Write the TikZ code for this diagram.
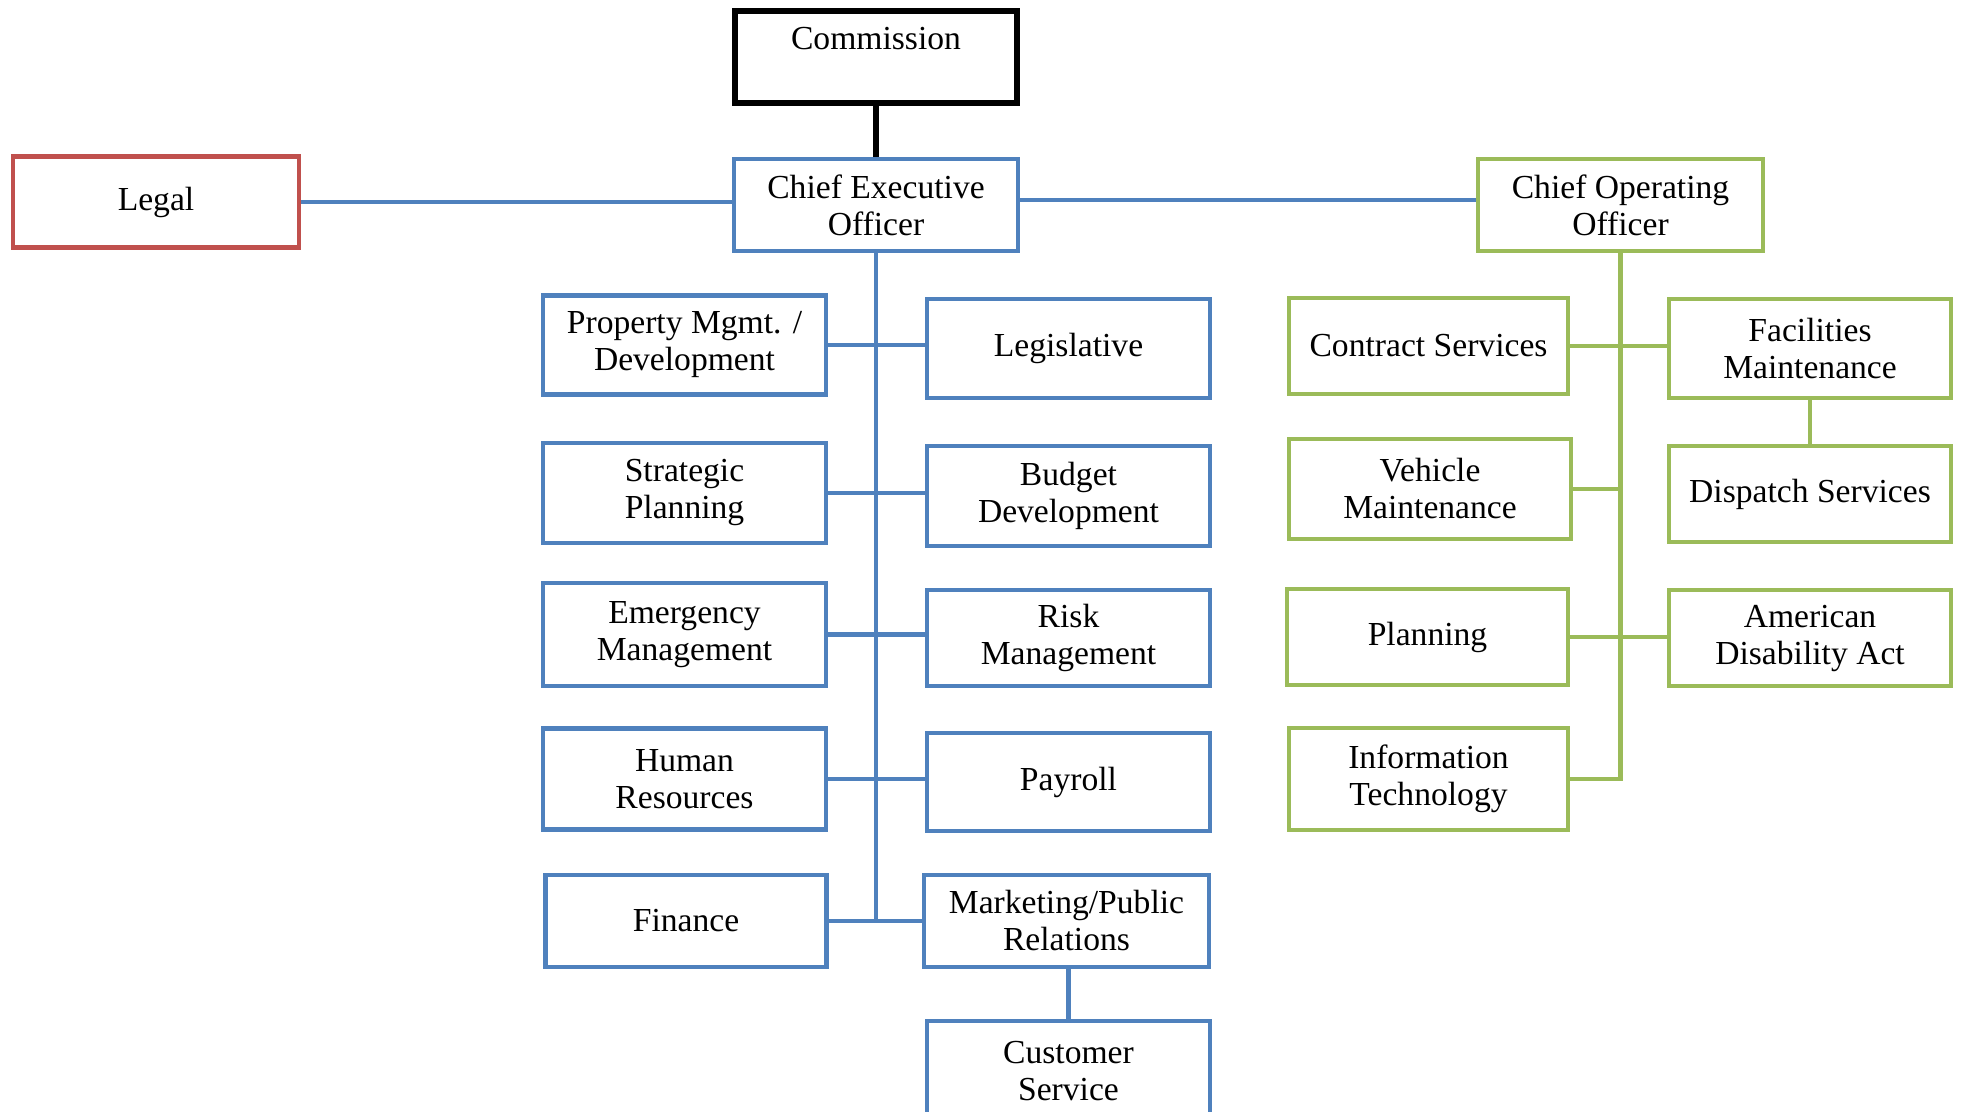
\documentclass[tikz,border=0pt]{standalone}
\usepackage{fontspec}
\setmainfont{Liberation Serif}
\definecolor{bl}{HTML}{4F81BD}
\definecolor{rd}{HTML}{C0504D}
\definecolor{gr}{HTML}{9BBB59}
\begin{document}
\begin{tikzpicture}[x=0.5pt,y=-0.5pt,
  sz/.style 2 args={minimum width=#1*0.5pt, minimum height=#2*0.5pt},
  box/.style={draw, line width=2.3pt, align=center, inner sep=0pt, fill=white,
    font=\fontsize{16.8}{18.5}\selectfont},
  bbox/.style={box, draw=bl},
  gbox/.style={box, draw=gr},
  rbox/.style={box, draw=rd},
  kbox/.style={box, draw=black, line width=3pt},
  bline/.style={draw=bl, line width=2.3pt},
  gline/.style={draw=gr, line width=2.3pt},
  kline/.style={draw=black, line width=3pt}]
\clip (0,0) rectangle (1965,1112);
\fill[white] (0,0) rectangle (1965,1112);

% top level
\node[kbox, sz={282}{92}] (com) at (876,57) {Commission\\\mbox{}};
\node[bbox, sz={284}{92}] (ceo) at (876,205) {Chief Executive\\Officer};
\node[rbox, sz={286}{91}] (legal) at (156,202) {Legal};
\node[gbox, sz={285}{92}] (coo) at (1620.5,205) {Chief Operating\\Officer};

% blue departments
\node[bbox, sz={283}{99}] (pm) at (684.5,345) {Property Mgmt. /\\Development};
\node[bbox, sz={283}{99}] (leg) at (1068.5,348.5) {Legislative};
\node[bbox, sz={283}{100}] (sp) at (684.5,493) {Strategic\\Planning};
\node[bbox, sz={283}{100}] (bd) at (1068.5,496) {Budget\\Development};
\node[bbox, sz={283}{103}] (em) at (684.5,634.5) {Emergency\\Management};
\node[bbox, sz={283}{96}] (rm) at (1068.5,638) {Risk\\Management};
\node[bbox, sz={283}{101}] (hr) at (684.5,779) {Human\\Resources};
\node[bbox, sz={283}{98}] (pay) at (1068.5,782) {Payroll};
\node[bbox, sz={281}{92}] (fin) at (686,921) {Finance};
\node[bbox, sz={285}{92}] (mpr) at (1066.5,921) {Marketing/Public\\Relations};
\node[bbox, sz={283}{100}] (cust) at (1068.5,1071) {Customer\\Service};

% green departments
\node[gbox, sz={279}{96}] (cs) at (1428.5,346) {Contract Services};
\node[gbox, sz={282}{99}] (fm) at (1810,348.5) {Facilities\\Maintenance};
\node[gbox, sz={282}{100}] (vm) at (1430,489) {Vehicle\\Maintenance};
\node[gbox, sz={282}{96}] (ds) at (1810,494) {Dispatch Services};
\node[gbox, sz={281}{96}] (pl) at (1427.5,637) {Planning};
\node[gbox, sz={282}{96}] (ada) at (1810,638) {American\\Disability Act};
\node[gbox, sz={279}{102}] (it) at (1428.5,779) {Information\\Technology};

% connectors
\draw[kline] (com.south) -- (ceo.north);
\draw[bline] (legal.east) -- (legal.east -| ceo.west);
\draw[bline] ([yshift=2.5pt]ceo.east) -- ([yshift=2.5pt]ceo.east -| coo.west);

\draw[bline] (ceo.south) -- (ceo.south |- fin.east);
\draw[bline] (pm.east) -- (pm.east -| leg.west);
\draw[bline] (sp.east) -- (sp.east -| bd.west);
\draw[bline] (em.east) -- (em.east -| rm.west);
\draw[bline] (hr.east) -- (hr.east -| pay.west);
\draw[bline] (fin.east) -- (fin.east -| mpr.west);
\draw[bline] (cust.north) -- (cust.north |- mpr.south);

\draw[gline] (coo.south) |- (it.east);
\draw[gline] (cs.east) -- (cs.east -| fm.west);
\draw[gline] (vm.east) -- (vm.east -| coo.south);
\draw[gline] (pl.east) -- (pl.east -| ada.west);
\draw[gline] (fm.south) -- (fm.south |- ds.north);
\end{tikzpicture}
\end{document}
